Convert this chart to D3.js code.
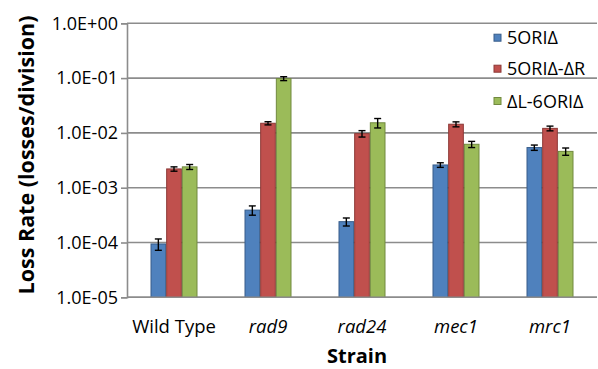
<!DOCTYPE html>
<html><head><meta charset="utf-8">
<script src="https://cdn.jsdelivr.net/npm/d3@7"></script>
<style>
body{margin:0;background:#fff;}
svg text{font-family:"Open Sans","Noto Sans",sans-serif;fill:#000;}
</style></head>
<body><svg id="c" width="598" height="369"></svg>
<script>
const categories = ["Wild Type","rad9","rad24","mec1","mrc1"];
const italicCats = [false,true,true,true,true];
const seriesNames = ["5ORIΔ","5ORIΔ-ΔR","ΔL-6ORIΔ"];
const seriesColors = ["#4F81BD","#C0504D","#9BBB59"];
const seriesStrokes = ["#385D8A","#8C3836","#71893F"];
const s1Values = [9.4e-5, 3.9e-4, 2.4e-4, 2.6e-3, 5.4e-3];
const s1Errors = [2.2e-5, 7.5e-5, 4e-5, 2.5e-4, 6e-4];
const s2Values = [2.2e-3, 1.5e-2, 9.7e-3, 1.44e-2, 1.21e-2];
const s2Errors = [2e-4, 1e-3, 1.3e-3, 1.5e-3, 1.2e-3];
const s3Values = [2.4e-3, 9.8e-2, 1.53e-2, 6.2e-3, 4.6e-3];
const s3Errors = [2.5e-4, 8e-3, 3e-3, 8e-4, 7e-4];
const yTicks = [1e0,1e-1,1e-2,1e-3,1e-4,1e-5];
const yTickLabels = ["1.0E+00","1.0E-01","1.0E-02","1.0E-03","1.0E-04","1.0E-05"];
const yTitle = "Loss Rate  (losses/division)";
const xTitle = "Strain";

const values = [s1Values,s2Values,s3Values];
const errors = [s1Errors,s2Errors,s3Errors];

const svg = d3.select("#c");
const L=127, R=597, T=23.3, B=297.3;

const x = d3.scaleBand().domain(categories).range([L,R]).paddingInner(0.5).paddingOuter(0.25);
const xs = d3.scaleBand().domain(d3.range(3)).range([0,x.bandwidth()]);
const y = d3.scaleLog().domain([1e-5,1]).range([B,T]);

// gridlines
svg.append("g").selectAll("line").data(yTicks).join("line")
  .attr("x1",L).attr("x2",R).attr("y1",d=>y(d)).attr("y2",d=>y(d))
  .attr("stroke","#8c8c8c").attr("stroke-width",1.6);

// y axis
const yAxis = d3.axisLeft(y).tickValues(yTicks).tickFormat((d,i)=>yTickLabels[i]).tickSize(6).tickPadding(3);
const gy = svg.append("g").attr("transform",`translate(${L},0)`).call(yAxis);
gy.select(".domain").attr("stroke","#8c8c8c").attr("stroke-width",1.6);
gy.selectAll(".tick line").attr("stroke","#8c8c8c").attr("stroke-width",1.6);
gy.selectAll(".tick text").attr("font-size",18).attr("font-family","'Open Sans',sans-serif").attr("fill","#000");

// bars
for(let s=0;s<3;s++){
  const g = svg.append("g");
  g.selectAll("rect").data(categories).join("rect")
    .attr("x",(c)=>x(c)+xs(s)+0.5)
    .attr("width",xs.bandwidth()-1)
    .attr("y",(c,i)=>y(values[s][i]))
    .attr("height",(c,i)=>B-y(values[s][i]))
    .attr("fill",seriesColors[s]).attr("stroke",seriesStrokes[s]).attr("stroke-width",1);
  const eg = svg.append("g").attr("stroke","#000").attr("stroke-width",1.4);
  categories.forEach((c,i)=>{
    const cx = x(c)+xs(s)+xs.bandwidth()/2;
    const y1 = y(values[s][i]+errors[s][i]), y2 = y(values[s][i]-errors[s][i]);
    eg.append("line").attr("x1",cx).attr("x2",cx).attr("y1",y1).attr("y2",y2);
    eg.append("line").attr("x1",cx-3.5).attr("x2",cx+3.5).attr("y1",y1).attr("y2",y1);
    eg.append("line").attr("x1",cx-3.5).attr("x2",cx+3.5).attr("y1",y2).attr("y2",y2);
  });
}

// x axis line
svg.append("line").attr("x1",L).attr("x2",R).attr("y1",B).attr("y2",B).attr("stroke","#8c8c8c").attr("stroke-width",1.6);

// x labels
svg.append("g").selectAll("text").data(categories).join("text")
  .attr("x",c=>x(c)+x.bandwidth()/2).attr("y",333)
  .attr("text-anchor","middle").attr("font-size",18.5)
  .attr("font-style",(c,i)=>italicCats[i]?"italic":"normal")
  .text(c=>c);

// titles
svg.append("text").attr("x",357).attr("y",363).attr("text-anchor","middle")
  .attr("font-size",20).attr("font-weight","bold").text(xTitle);
svg.append("text").attr("transform","translate(33.5,155) rotate(-90)").attr("text-anchor","middle")
  .attr("font-size",21.5).attr("font-weight","bold").text(yTitle);

// legend
const lg = svg.append("g");
seriesNames.forEach((n,i)=>{
  const cy = [37.7,68.7,101][i];
  lg.append("rect").attr("x",494).attr("y",cy-3.5).attr("width",7).attr("height",7)
    .attr("fill",seriesColors[i]).attr("stroke",seriesStrokes[i]).attr("stroke-width",1);
  lg.append("text").attr("x",507).attr("y",cy+6.5).attr("font-size",18).text(n);
});
</script></body></html>
